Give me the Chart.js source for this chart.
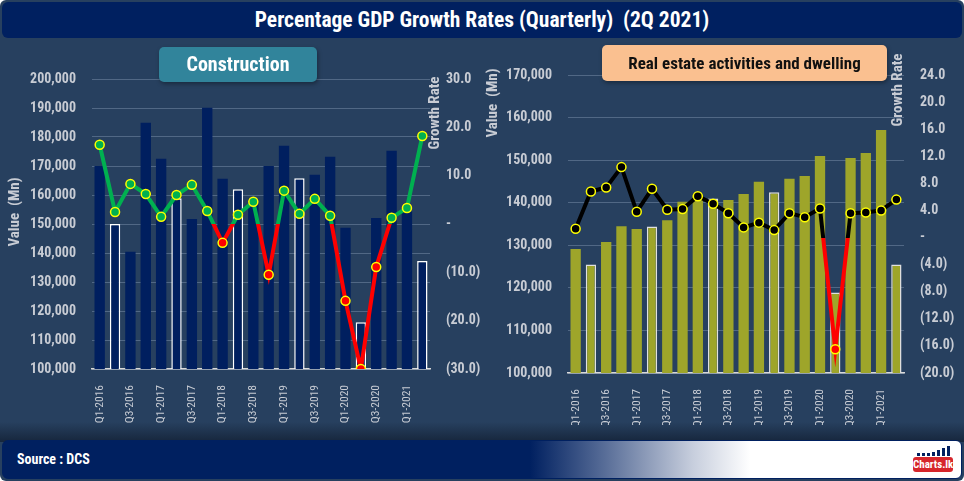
<!DOCTYPE html>
<html>
<head>
<meta charset="utf-8">
<script src="https://cdn.jsdelivr.net/npm/chart.js@4.4.0/dist/chart.umd.min.js"></script>
<style>
  body { margin: 0; background: #ffffff; }
  #frame { position: relative; width: 964px; height: 481px; background: #27405f; border-radius: 6px; overflow: hidden;
    font-family: Roboto, "Open Sans", sans-serif; font-stretch: condensed; }
  #title { position: absolute; left: 2px; top: 2px; width: 960px; height: 36px; background: #002060; border-radius: 6px;
    color: #fff; font-size: 21.5px; font-weight: bold; text-align: center; line-height: 36px; }
  .panel { position: absolute; top: 40px; width: 482px; height: 395px; }
  .tag { position: absolute; border-radius: 5px; text-align: center; font-weight: bold; box-shadow: 1px 2px 4px rgba(0,0,0,0.35); }
  #tagL { left: 159px; top: 47px; width: 158px; height: 35px; line-height: 35px; background: #31849b; color: #fff; font-size: 20px; }
  #tagR { left: 602px; top: 45px; width: 285px; height: 36px; line-height: 36px; background: #fac090; color: #111; font-size: 17px; }
  #shade { position: absolute; left: 0; top: 422px; width: 964px; height: 20px; background: linear-gradient(#27405f, #16263c); }
  #footer { position: absolute; left: 2px; top: 440px; width: 958px; height: 37px; border: 1px solid #002060; border-radius: 6px;
    background: linear-gradient(90deg, #002060 0%, #002060 55%, #5a6f99 63%, #c7cedd 72%, #ffffff 78%, #ffffff 100%); }
  #source { position: absolute; left: 14px; top: 0; line-height: 37px; color: #fff; font-size: 14px; font-weight: bold; }
  #logo { position: absolute; right: 8px; top: 5px; width: 40px; height: 28px; }
  #logo .bars { position: absolute; left: 4px; top: 0; width: 34px; height: 10px; }
  #logo .bars span { position: absolute; bottom: 0; width: 3px; background: #002060; }
  #logo .name { position: absolute; left: 0; top: 11px; width: 40px; height: 15px; background: #d6262c; border-radius: 3px;
    color: #fff; font-size: 11px; font-weight: bold; line-height: 15px; text-align: center; }
</style>
</head>
<body>
<div id="frame">
  <div id="title">Percentage GDP Growth Rates (Quarterly)&nbsp; (2Q 2021)</div>
  <div id="shade"></div>
  <div class="panel" style="left:0"><canvas id="left" width="482" height="395"></canvas></div>
  <div class="panel" style="left:482px"><canvas id="right" width="482" height="395"></canvas></div>
  <div class="tag" id="tagL">Construction</div>
  <div class="tag" id="tagR">Real estate activities and dwelling</div>
  <div id="footer">
    <div id="source">Source : DCS</div>
    <div id="logo">
      <div class="bars">
        <span style="left:0;height:3px"></span><span style="left:5px;height:3px"></span><span style="left:10px;height:3px"></span>
        <span style="left:15px;height:4px"></span><span style="left:20px;height:6px"></span><span style="left:25px;height:8px"></span>
        <span style="left:30px;height:10px"></span>
      </div>
      <div class="name">Charts.lk</div>
    </div>
  </div>
</div>
<script>
const quarters = ["Q1-2016","Q2-2016","Q3-2016","Q4-2016","Q1-2017","Q2-2017","Q3-2017","Q4-2017",
  "Q1-2018","Q2-2018","Q3-2018","Q4-2018","Q1-2019","Q2-2019","Q3-2019","Q4-2019",
  "Q1-2020","Q2-2020","Q3-2020","Q4-2020","Q1-2021","Q2-2021"];

// Construction, value (Mn) and growth rate (%)
const constructionValues = [170000,150000,140400,184900,172500,158900,151700,190100,165600,162000,158700,170000,
  177000,165800,167000,173200,148700,116100,152100,175300,154200,137200];
const constructionGrowth = [16.4,2.5,8.3,6.2,1.5,6.0,8.1,2.7,-3.9,1.9,4.6,-10.5,6.9,2.1,5.2,1.7,-15.9,-30.0,-8.9,1.3,3.3,18.2];

// Real estate activities and dwelling
const realEstateValues = [129100,125500,130750,134500,133800,134400,135900,140200,141800,141000,140650,142050,
  144900,142450,145600,146300,151000,118900,150500,151700,157100,125500];
const realEstateGrowth = [1.3,6.8,7.4,10.4,3.8,7.2,4.1,4.2,6.1,5.0,3.6,1.5,2.2,1.1,3.6,3.0,4.3,-16.5,3.6,3.7,4.0,5.6];

const tickColor = "#c8ccd4";
const fontFamily = 'Roboto, "Open Sans", sans-serif';

// canvas text should be condensed like the html text
const fontDesc = Object.getOwnPropertyDescriptor(CanvasRenderingContext2D.prototype, "font");
Object.defineProperty(CanvasRenderingContext2D.prototype, "font", {
  get() { return fontDesc.get.call(this); },
  set(v) { fontDesc.set.call(this, v); this.fontStretch = "condensed"; }
});

// Q2 bars get a light outline
const q2Border = quarters.map(q => q.startsWith("Q2") ? 1.5 : 0);

function splitColor(pos, neg) {
  return function (ctx) {
    const chart = ctx.chart;
    const area = chart.chartArea;
    if (!area) return pos;
    const y0 = chart.scales.y1.getPixelForValue(0);
    let s = (y0 - area.top) / (area.bottom - area.top);
    s = Math.min(1, Math.max(0, s));
    const g = chart.ctx.createLinearGradient(0, area.top, 0, area.bottom);
    g.addColorStop(0, pos); g.addColorStop(s, pos);
    g.addColorStop(s, neg); g.addColorStop(1, neg);
    return g;
  };
}

const axisTitles = {
  id: "axisTitles",
  afterDraw(chart, args, opts) {
    const c = chart.ctx;
    opts.items.forEach(t => {
      c.save();
      c.translate(t.x, t.y);
      c.rotate(-Math.PI / 2);
      c.font = "bold 15px " + fontFamily;
      c.fillStyle = tickColor;
      c.textAlign = "center";
      c.textBaseline = "middle";
      c.fillText(t.text, 0, 0);
      c.restore();
    });
  }
};

function growthLabel(v) {
  if (v === 0) return "-";
  return v < 0 ? "(" + Math.abs(v).toFixed(1) + ")" : v.toFixed(1);
}

function makeChart(id, values, growth, o) {
  return new Chart(document.getElementById(id), {
    type: "bar",
    data: {
      labels: quarters,
      datasets: [{
        type: "line",
        data: growth,
        yAxisID: "y1",
        order: 0,
        borderColor: splitColor(o.pos, "#ff0000"),
        borderWidth: 4,
        pointRadius: 4.5,
        pointBorderWidth: 1.5,
        pointBorderColor: "#ffff00",
        pointBackgroundColor: c => c.raw < 0 ? "#ff0000" : o.pos,
        tension: 0
      }, {
        data: values,
        yAxisID: "y",
        order: 1,
        backgroundColor: o.bar,
        borderColor: o.outline,
        borderWidth: q2Border,
        barPercentage: 0.75,
        categoryPercentage: 0.9
      }]
    },
    options: {
      responsive: false,
      animation: false,
      layout: { padding: { top: o.top, left: 0, right: 0, bottom: 10 } },
      plugins: {
        legend: { display: false },
        tooltip: { enabled: false },
        axisTitles: { items: o.titles }
      },
      scales: {
        x: {
          grid: { display: false },
          border: { display: true, color: "#d9d9d9", width: 1.5 },
          afterFit: s => { s.height = o.xh; },
          ticks: {
            color: tickColor, autoSkip: false, minRotation: 90, maxRotation: 90, padding: 8,
            font: { family: fontFamily, size: 11.5 },
            callback: function (v, i) { return i % 2 === 0 ? this.getLabelForValue(v) : ""; }
          }
        },
        y: {
          position: "left",
          min: o.ymin, max: o.ymax,
          grid: { color: "rgba(160,180,205,0.35)", drawTicks: false, lineWidth: 1 },
          border: { display: false },
          afterFit: s => { s.width = o.yw; },
          ticks: {
            stepSize: 10000, color: tickColor, padding: 16,
            font: { family: fontFamily, size: 14, weight: "bold" },
            callback: v => v.toLocaleString("en-US")
          }
        },
        y1: {
          position: "right",
          min: o.gmin, max: o.gmax,
          grid: { display: false, drawTicks: false },
          border: { display: false },
          afterFit: s => { s.width = o.y1w; },
          ticks: {
            stepSize: o.gstep, color: tickColor, padding: 16,
            font: { family: fontFamily, size: 14, weight: "bold" },
            callback: growthLabel
          }
        }
      }
    },
    plugins: [axisTitles]
  });
}

makeChart("left", constructionValues, constructionGrowth, {
  pos: "#00b050", bar: "#001f5f", outline: "#ffffff",
  ymin: 100000, ymax: 200000, gmin: -30, gmax: 30, gstep: 10,
  top: 39, xh: 56, yw: 92, y1w: 52,
  titles: [{ text: "Value  (Mn)", x: 15, y: 172 }, { text: "Growth Rate", x: 435, y: 73 }]
});

makeChart("right", realEstateValues, realEstateGrowth, {
  pos: "#000000", bar: "#9ea52a", outline: "#e0e0e0",
  ymin: 100000, ymax: 170000, gmin: -20, gmax: 24, gstep: 4,
  top: 35, xh: 52, yw: 86, y1w: 60,
  titles: [{ text: "Value  (Mn)", x: 11, y: 63 }, { text: "Growth Rate", x: 416, y: 50 }]
});
</script>
</body>
</html>
